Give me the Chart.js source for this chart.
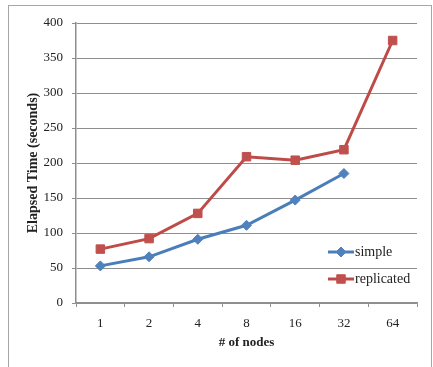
<!DOCTYPE html>
<html>
<head>
<meta charset="utf-8">
<script src="https://cdn.jsdelivr.net/npm/chart.js@4"></script>
<style>
  html, body { margin: 0; padding: 0; background: #fff; }
  #wrap { width: 433px; height: 367px; position: relative; }
</style>
</head>
<body>
<div id="wrap"><canvas id="c" width="433" height="367"></canvas></div>
<script>
const categories = ['1', '2', '4', '8', '16', '32', '64'];
const simpleValues = [53, 66, 91, 111, 147, 185, null];
const replicatedValues = [77, 92, 128, 209, 204, 219, 375];
const yTicks = [0, 50, 100, 150, 200, 250, 300, 350, 400];

const FONT = "'Liberation Serif', 'DejaVu Serif', serif";
const BLUE = '#4A7EBB';
const RED = '#BE4B48';
const GRID = '#8E8E8E';

const frame = {
  id: 'frame',
  beforeDraw(chart) {
    const ctx = chart.ctx;
    ctx.save();
    ctx.fillStyle = '#fff';
    ctx.fillRect(0, 0, chart.width, chart.height);
    ctx.strokeStyle = '#a6a6a6';
    ctx.lineWidth = 1;
    ctx.strokeRect(8.5, 5.5, 423, 380);
    ctx.restore();
  }
};

const innerLegend = {
  id: 'innerLegend',
  afterDraw(chart) {
    const ctx = chart.ctx;
    const rows = [252, 279];
    ctx.save();
    chart.data.datasets.forEach((ds, i) => {
      const y = rows[i];
      ctx.strokeStyle = ds.borderColor;
      ctx.lineWidth = ds.borderWidth;
      ctx.beginPath();
      ctx.moveTo(328, y);
      ctx.lineTo(354, y);
      ctx.stroke();
      ctx.fillStyle = ds.pointBackgroundColor;
      ctx.strokeStyle = ds.pointBorderColor;
      ctx.lineWidth = 1;
      Chart.helpers.drawPoint(ctx, {
        pointStyle: ds.pointStyle,
        radius: ds.pointRadius,
        borderWidth: 1,
        rotation: 0
      }, 341, y);
      ctx.fillStyle = '#222';
      ctx.font = "14px " + FONT;
      ctx.textBaseline = 'middle';
      ctx.textAlign = 'left';
      ctx.fillText(ds.label, 355, y);
    });
    ctx.restore();
  }
};

new Chart(document.getElementById('c'), {
  type: 'line',
  data: {
    labels: categories,
    datasets: [
      {
        label: 'simple',
        data: simpleValues,
        borderColor: BLUE,
        backgroundColor: BLUE,
        pointBackgroundColor: '#4F81BD',
        pointBorderColor: '#4F81BD',
        borderWidth: 3,
        pointStyle: 'rectRot',
        pointRadius: 5,
        pointBorderWidth: 1,
        tension: 0
      },
      {
        label: 'replicated',
        data: replicatedValues,
        borderColor: RED,
        backgroundColor: RED,
        pointBackgroundColor: '#C0504D',
        pointBorderColor: '#C0504D',
        borderWidth: 3,
        pointStyle: 'rect',
        pointRadius: 6,
        pointBorderWidth: 1,
        tension: 0
      }
    ]
  },
  options: {
    responsive: false,
    animation: false,
    devicePixelRatio: 1,
    layout: { padding: { top: 23, right: 16, left: 0, bottom: 0 } },
    plugins: {
      legend: { display: false },
      tooltip: { enabled: false }
    },
    scales: {
      x: {
        offset: true,
        grid: {
          offset: true,
          drawOnChartArea: false,
          drawTicks: true,
          tickLength: 4,
          color: GRID,
          lineWidth: 1
        },
        border: { color: GRID, width: 1.5 },
        ticks: {
          color: '#222',
          font: { family: FONT, size: 13 },
          padding: 9,
          maxRotation: 0
        },
        title: {
          display: true,
          text: '# of nodes',
          color: '#222',
          font: { family: FONT, size: 13, weight: 'bold' },
          padding: { top: 0, bottom: 17 }
        },
        afterFit(s) { s.height = 64; }
      },
      y: {
        min: 0,
        max: 400,
        afterBuildTicks(s) { s.ticks = yTicks.map(v => ({ value: v })); },
        grid: {
          color: GRID,
          lineWidth: 1,
          drawTicks: true,
          tickLength: 4
        },
        border: { color: GRID, width: 1.5 },
        ticks: {
          color: '#222',
          font: { family: FONT, size: 13 },
          padding: 9
        },
        title: {
          display: true,
          text: 'Elapsed Time (seconds)',
          color: '#222',
          font: { family: FONT, size: 14, weight: 'bold' },
          padding: { top: 25, bottom: 0 }
        },
        afterFit(s) { s.width = 76; }
      }
    }
  },
  plugins: [frame, innerLegend]
});
</script>
</body>
</html>
